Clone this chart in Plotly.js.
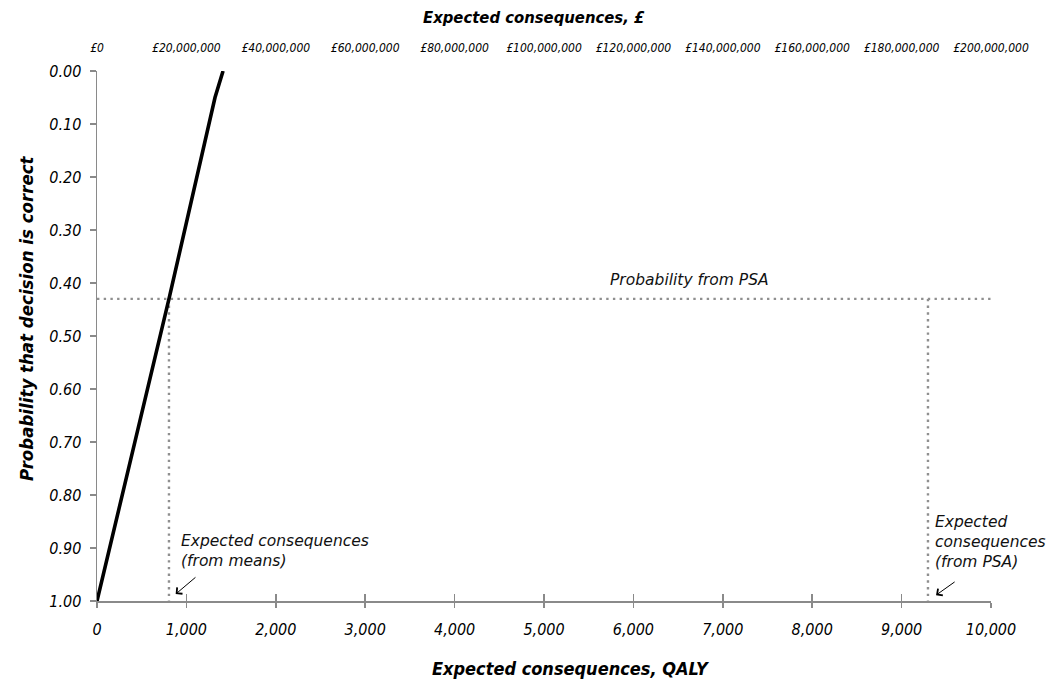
<!DOCTYPE html>
<html>
<head>
<meta charset="utf-8">
<script src="https://cdn.plot.ly/plotly-3.0.1.min.js"></script>
<style>html,body{margin:0;padding:0;background:#fff;}#chart{width:1052px;height:679px;}</style>
</head>
<body>
<div id="chart"></div>
<script>
// ---- data ----
var curveQaly = [0, 805, 1320, 1410];          // expected consequences, QALY
var curveProb = [1.00, 0.43, 0.05, 0.00];      // probability that decision is correct
var psaProb = 0.43;                            // probability from PSA
var meanConseq = 805;                          // expected consequences (from means), QALY
var psaConseq = 9295;                          // expected consequences (from PSA), QALY
var qalyRange = [0, 10000];
var qalyTicks = [0, 1000, 2000, 3000, 4000, 5000, 6000, 7000, 8000, 9000, 10000];
var poundRange = [0, 200000000];
var poundTicks = [0, 20000000, 40000000, 60000000, 80000000, 100000000, 120000000, 140000000, 160000000, 180000000, 200000000];
var probTicks = [0, 0.1, 0.2, 0.3, 0.4, 0.5, 0.6, 0.7, 0.8, 0.9, 1.0];

var FONT = '"DejaVu Sans Condensed", "DejaVu Sans", sans-serif';
var AFONT = '"DejaVu Sans", sans-serif';
var AX = '#8a8a8a';
var DOT = '#8f8f8f';

function it(s) { return '<i>' + s + '</i>'; }
var qalyText = qalyTicks.map(function (v) { return it(v.toLocaleString('en-US')); });
var poundText = poundTicks.map(function (v) { return it('£' + v.toLocaleString('en-US')); });
var probText = probTicks.map(function (v) { return it(v.toFixed(2)); });

var dotLine = {color: DOT, width: 2.4, dash: '2.4px,4.3px'};
var traces = [
  {x: [qalyRange[0], qalyRange[1]], y: [psaProb, psaProb], mode: 'lines', xaxis: 'x', yaxis: 'y',
   line: dotLine, hoverinfo: 'skip', showlegend: false},
  {x: [meanConseq, meanConseq], y: [psaProb, 1], mode: 'lines', xaxis: 'x', yaxis: 'y',
   line: dotLine, hoverinfo: 'skip', showlegend: false},
  {x: [psaConseq, psaConseq], y: [psaProb, 1], mode: 'lines', xaxis: 'x', yaxis: 'y',
   line: dotLine, hoverinfo: 'skip', showlegend: false},
  {x: curveQaly, y: curveProb, mode: 'lines', xaxis: 'x', yaxis: 'y',
   line: {color: '#000', width: 3.6}, showlegend: false},
  // carrier traces for the top (£) axis and the crossing-tick overlay
  {x: poundRange, y: [null, null], mode: 'lines', xaxis: 'x2', yaxis: 'y', hoverinfo: 'skip', showlegend: false},
  {x: qalyRange, y: [null, null], mode: 'lines', xaxis: 'x3', yaxis: 'y', hoverinfo: 'skip', showlegend: false}
];

var annFont = {family: AFONT, size: 15.5, color: '#111'};
var layout = {
  width: 1052, height: 679,
  margin: {l: 97, r: 61, t: 71, b: 78, pad: 0},
  paper_bgcolor: '#fff', plot_bgcolor: '#fff',
  font: {family: FONT, color: '#000'},
  showlegend: false,
  xaxis: {
    range: qalyRange, tickmode: 'array', tickvals: qalyTicks, ticktext: qalyText, showgrid: false, zeroline: false,
    showline: true, linecolor: AX, linewidth: 1.5, ticks: 'outside', ticklen: 5, tickcolor: AX, tickwidth: 1.5,
    ticklabelstandoff: 8, automargin: false,
    tickfont: {family: FONT, size: 16, color: '#000'}
  },
  xaxis2: {
    overlaying: 'x', side: 'top', anchor: 'y', range: poundRange, tickmode: 'array', tickvals: poundTicks, ticktext: poundText,
    showgrid: false, zeroline: false, showline: false, ticks: '',
    ticklabelstandoff: 16, automargin: false,
    tickfont: {family: FONT, size: 12, color: '#000'}
  },
  xaxis3: {
    overlaying: 'x', side: 'bottom', anchor: 'y', range: qalyRange, tickmode: 'array', tickvals: qalyTicks,
    showticklabels: false, showgrid: false, zeroline: false, showline: false,
    ticks: 'inside', ticklen: 7, tickcolor: AX, tickwidth: 1.5
  },
  yaxis: {
    range: [1, 0], tickmode: 'array', tickvals: probTicks, ticktext: probText, showgrid: false, zeroline: false,
    showline: true, linecolor: AX, linewidth: 1.5, ticks: 'outside', ticklen: 6, tickcolor: AX, tickwidth: 1.5,
    ticklabelstandoff: 5, automargin: false,
    tickfont: {family: FONT, size: 16, color: '#000'}
  },
  annotations: [
    // axis titles
    {xref: 'paper', yref: 'paper', x: 0.489, y: 1, yshift: 54, text: '<b><i>Expected consequences, £</i></b>',
     showarrow: false, xanchor: 'center', yanchor: 'middle', font: {family: FONT, size: 16.5, color: '#000'}},
    {xref: 'paper', yref: 'paper', x: 0.53, y: 0, yshift: -67, text: '<b><i>Expected consequences, QALY</i></b>',
     showarrow: false, xanchor: 'center', yanchor: 'middle', font: {family: FONT, size: 18, color: '#000'}},
    {xref: 'paper', yref: 'paper', x: 0, xshift: -70, y: 0.534, text: '<b><i>Probability that decision is correct</i></b>',
     textangle: -90, showarrow: false, xanchor: 'center', yanchor: 'middle', font: {family: FONT, size: 18.5, color: '#000'}},
    // in-plot notes
    {xref: 'x', yref: 'y', x: 6633, y: 0.394, text: '<i>Probability from PSA</i>', showarrow: false,
     xanchor: 'center', yanchor: 'middle', font: annFont},
    {xref: 'x', yref: 'y', x: 920, y: 0.906, text: '<i>Expected consequences<br>(from means)</i>', showarrow: false,
     xanchor: 'left', yanchor: 'middle', align: 'left', font: annFont},
    {xref: 'x', yref: 'y', x: 9350, y: 0.888, text: '<i>Expected<br>consequences<br>(from PSA)</i>', showarrow: false,
     xanchor: 'left', yanchor: 'middle', align: 'left', font: annFont},
    {xref: 'x', yref: 'y', x: 880, y: 0.987, axref: 'x', ayref: 'y', ax: 1118, ay: 0.953, text: '',
     showarrow: true, arrowhead: 4, arrowsize: 1.6, arrowwidth: 1, arrowcolor: '#000'},
    {xref: 'x', yref: 'y', x: 9385, y: 0.989, axref: 'x', ayref: 'y', ax: 9610, ay: 0.962, text: '',
     showarrow: true, arrowhead: 4, arrowsize: 1.6, arrowwidth: 1, arrowcolor: '#000'}
  ]
};

Plotly.newPlot('chart', traces, layout, {staticPlot: true, displayModeBar: false});
</script>
</body>
</html>
